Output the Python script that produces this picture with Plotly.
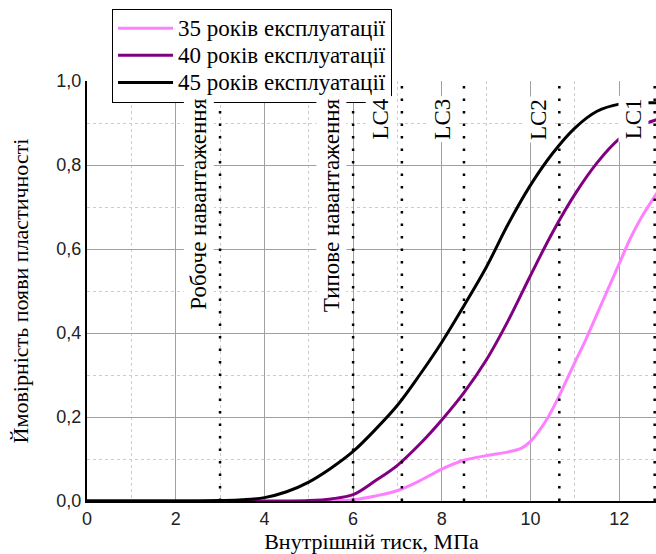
import plotly.graph_objects as go

# ---- data ----
x_45 = [0, 2.5, 3.0, 3.5, 4.0, 4.5, 5.0, 5.5, 6.0, 6.5, 7.0, 7.5, 8.0, 8.5, 9.0, 9.5, 10.0, 10.5, 11.0, 11.5, 12.0, 12.4, 12.85]
y_45 = [0, 0, 0.001, 0.003, 0.008, 0.022, 0.045, 0.078, 0.118, 0.17, 0.228, 0.3, 0.378, 0.465, 0.556, 0.66, 0.752, 0.828, 0.888, 0.928, 0.945, 0.948, 0.948]

x_40 = [0, 3.0, 4.5, 5.0, 5.5, 6.0, 6.5, 7.0, 7.5, 8.0, 8.5, 9.0, 9.5, 10.0, 10.5, 11.0, 11.5, 12.0, 12.4, 12.85]
y_40 = [0, 0, 0, 0.001, 0.005, 0.015, 0.048, 0.085, 0.135, 0.193, 0.258, 0.335, 0.43, 0.537, 0.64, 0.73, 0.805, 0.862, 0.89, 0.908]

x_35 = [0, 5.5, 6.0, 6.5, 7.0, 7.5, 8.0, 8.5, 9.0, 9.5, 9.8, 10.0, 10.2, 10.4, 10.6, 10.8, 11.0, 11.25, 11.5, 11.75, 12.0, 12.25, 12.5, 12.85]
y_35 = [0, 0, 0.003, 0.012, 0.025, 0.048, 0.076, 0.097, 0.108, 0.117, 0.126, 0.142, 0.168, 0.2, 0.24, 0.285, 0.33, 0.385, 0.445, 0.505, 0.565, 0.625, 0.675, 0.733]

series_names = ["35 років експлуатації", "40 років експлуатації", "45 років експлуатації"]
series_colors = ["#ff80ff", "#800080", "#000000"]

marker_x = [3.0, 6.0, 7.1, 8.5, 10.65, 12.8]
marker_labels = ["Робоче навантаження", "Типове навантаження", "LC4", "LC3", "LC2", "LC1"]

x_ticks = [0, 2, 4, 6, 8, 10, 12]
y_ticks = [0.0, 0.2, 0.4, 0.6, 0.8, 1.0]

SERIF = "Liberation Serif, Times New Roman, serif"
SANS = "Liberation Sans, Arial, sans-serif"

fig = go.Figure()
for xs, ys, name, col in zip([x_35, x_40, x_45], [y_35, y_40, y_45], series_names, series_colors):
    fig.add_trace(go.Scatter(x=xs, y=ys, mode="lines",
                             name="<span style='font-family:Liberation Serif;font-size:23px'>" + name + "</span>",
                             line=dict(color=col, width=3, shape="spline", smoothing=1.0)))

for xv, lab in zip(marker_x, marker_labels):
    fig.add_shape(type="line", x0=xv, x1=xv, y0=0, y1=1, xref="x", yref="y",
                  line=dict(color="black", width=2.5, dash="2.5px,10px"), layer="above")
    fig.add_annotation(x=xv, y=0.965, xref="x", yref="y", text=lab, textangle=-90,
                       xanchor="right", yanchor="top", xshift=-6, showarrow=False,
                       bgcolor="white", borderpad=2,
                       font=dict(family=SERIF, size=23, color="black"))

fig.update_layout(
    width=656, height=554,
    margin=dict(l=87, r=0, t=81, b=53),
    plot_bgcolor="white", paper_bgcolor="white",
    separators=",.",
    showlegend=True,
    legend=dict(x=0.044, y=1.172, xanchor="left", yanchor="top",
                bgcolor="white", bordercolor="black", borderwidth=1,
                font=dict(family=SERIF, size=18.5, color="black"),
                itemwidth=55, tracegroupgap=0),
    xaxis=dict(range=[0, 12.83], tickvals=x_ticks, showline=True, linecolor="black", linewidth=2,
               showgrid=True, gridcolor="#a0a0a0", gridwidth=1, zeroline=False, ticks="",
               tickfont=dict(family=SANS, size=18, color="#222"),
               minor=dict(dtick=1, tick0=0, showgrid=True, gridcolor="#cccccc", griddash="dot", gridwidth=1),
               title=dict(text="Внутрішній тиск, МПа", font=dict(family=SERIF, size=22, color="black"), standoff=4)),
    yaxis=dict(range=[0, 1.0], tickvals=y_ticks, tickformat=".1f", showline=True, linecolor="black", linewidth=2,
               showgrid=True, gridcolor="#a0a0a0", gridwidth=1, zeroline=False, ticks="",
               tickfont=dict(family=SANS, size=18, color="#222"),
               minor=dict(dtick=0.1, tick0=0, showgrid=True, gridcolor="#cccccc", griddash="dot", gridwidth=1),
               title=dict(text="Ймовірність появи пластичності", font=dict(family=SERIF, size=22, color="black"), standoff=22)),
)

fig.write_html("out.html", config={"displayModeBar": False},
               post_script="document.body.style.margin='0';document.body.style.overflow='hidden';")
